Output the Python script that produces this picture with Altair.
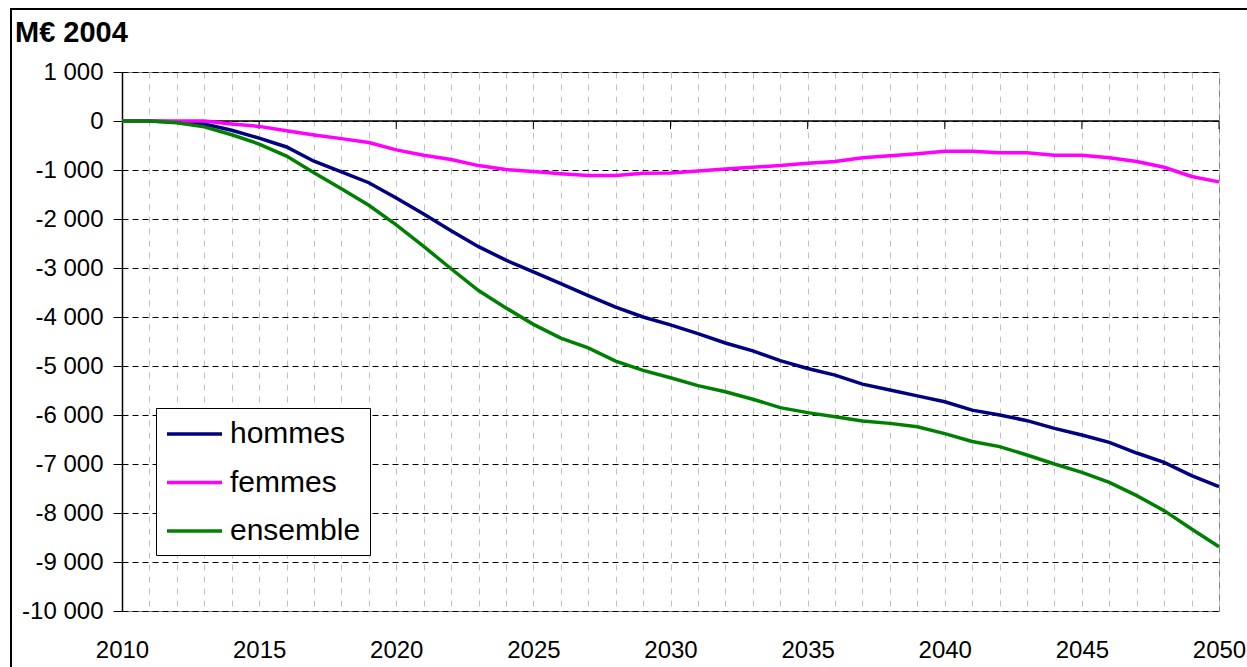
import altair as alt
import pandas as pd

# Années de projection
years = list(range(2010, 2051))

# Écart en M€ 2004 par rapport au scénario de référence
hommes = [0, 0, -20, -60, -190, -350, -530, -820, -1040, -1260,
          -1570, -1900, -2240, -2565, -2840, -3080, -3320, -3565, -3800, -4000,
          -4160, -4340, -4530, -4690, -4890, -5050, -5185, -5370, -5490, -5610,
          -5730, -5900, -6000, -6116, -6272, -6408, -6558, -6776, -6966, -7238,
          -7463]
femmes = [0, 0, 0, 0, -60, -110, -200, -285, -360, -440,
          -590, -700, -785, -910, -990, -1030, -1076, -1110, -1110, -1065,
          -1062, -1021, -979, -944, -910, -861, -826, -750, -708, -667,
          -615, -615, -646, -646, -701, -701, -750, -826, -944, -1132,
          -1243]
ensemble = [0, 0, -35, -120, -280, -470, -715, -1054, -1381, -1721,
            -2120, -2560, -3015, -3460, -3815, -4150, -4430, -4630, -4900, -5090,
            -5240, -5400, -5527, -5678, -5849, -5952, -6034, -6123, -6171, -6240,
            -6380, -6540, -6646, -6816, -7000, -7170, -7374, -7646, -7952, -8327,
            -8687]

series_names = ["hommes", "femmes", "ensemble"]
series_colors = ["#000080", "#FF00FF", "#008000"]
y_ticks = list(range(-10000, 1001, 1000))
major_years = list(range(2015, 2051, 5))
unit_label = "M€ 2004"

df = pd.DataFrame({
    "annee": years * 3,
    "valeur": hommes + femmes + ensemble,
    "serie": ["hommes"] * len(years) + ["femmes"] * len(years) + ["ensemble"] * len(years),
})

W, H = 1097, 539
FONT = "Liberation Sans"

x_scale = alt.Scale(domain=[2010, 2050], nice=False, zero=False)
y_scale = alt.Scale(domain=[-10000, 1000], nice=False, zero=False)

x_axis = alt.Axis(
    values=years, grid=True, gridColor="#c0c0c0", gridDash=[6, 6], gridWidth=1,
    domain=False, ticks=False, title=None,
    labelExpr="datum.value % 5 == 0 ? format(datum.value, 'd') : ''",
    labelFont=FONT, labelFontSize=24, labelColor="black", labelPadding=27,
    labelFlush=False, labelOverlap=False, labelBound=False,
)
y_axis = alt.Axis(
    values=y_ticks, grid=True, gridColor="black", gridDash=[6, 4], gridWidth=1,
    domain=True, domainColor="black", domainWidth=1.5,
    ticks=True, tickColor="black", tickSize=9, tickWidth=1,
    title=None, labelFont=FONT, labelFontSize=24, labelColor="black", labelPadding=10,
    labelExpr="(datum.value < 0 ? '-' : '') + replace(format(abs(datum.value), ','), ',', ' ')",
    labelOverlap=False,
)

# Cadre extérieur
frame = alt.Chart(pd.DataFrame({"k": [0]})).mark_rect(
    fillOpacity=0, stroke="black", strokeWidth=2
).encode(x=alt.value(-111), x2=alt.value(W + 60), y=alt.value(-63), y2=alt.value(H + 80))

# Axe des abscisses au niveau zéro
zero_line = alt.Chart(pd.DataFrame({"v": [0]})).mark_rule(color="black", strokeWidth=1.5).encode(
    y=alt.Y("v:Q", scale=y_scale, axis=y_axis)
)
zero_ticks = alt.Chart(pd.DataFrame({"annee": major_years})).mark_rule(color="black", strokeWidth=1).encode(
    x=alt.X("annee:Q", scale=x_scale, axis=x_axis),
    y=alt.datum(0),
    y2=alt.datum(-165),
)

lines = alt.Chart(df).mark_line(strokeWidth=3.5).encode(
    x=alt.X("annee:Q", scale=x_scale, axis=x_axis),
    y=alt.Y("valeur:Q", scale=y_scale, axis=y_axis),
    color=alt.Color(
        "serie:N",
        scale=alt.Scale(domain=series_names, range=series_colors),
        sort=series_names,
        legend=alt.Legend(
            orient="none", legendX=34, legendY=336, title=None,
            strokeColor="black", fillColor="white", padding=9,
            # trait horizontal long, décalé à droite du centre du symbole
            symbolType="M-1,0H2.667", symbolSize=900, symbolStrokeWidth=3.5,
            labelFont=FONT, labelFontSize=30, labelColor="black", labelOffset=31,
            rowPadding=16.5,
        ),
    ),
)

title = alt.Chart(pd.DataFrame({"k": [0]})).mark_text(
    text=unit_label, align="left", baseline="alphabetic",
    font=FONT, fontSize=29, fontWeight="bold", color="black",
).encode(x=alt.value(-107), y=alt.value(-30))

chart = alt.layer(frame, zero_line, zero_ticks, lines, title).properties(
    width=W, height=H,
    padding={"left": 122, "top": 72, "right": 28, "bottom": 56},
    autosize=alt.AutoSizeParams(type="none"),
    background="white",
).configure_view(stroke="#808080", strokeWidth=1)

chart.save("out.html", embed_options={"renderer": "svg", "actions": False})
